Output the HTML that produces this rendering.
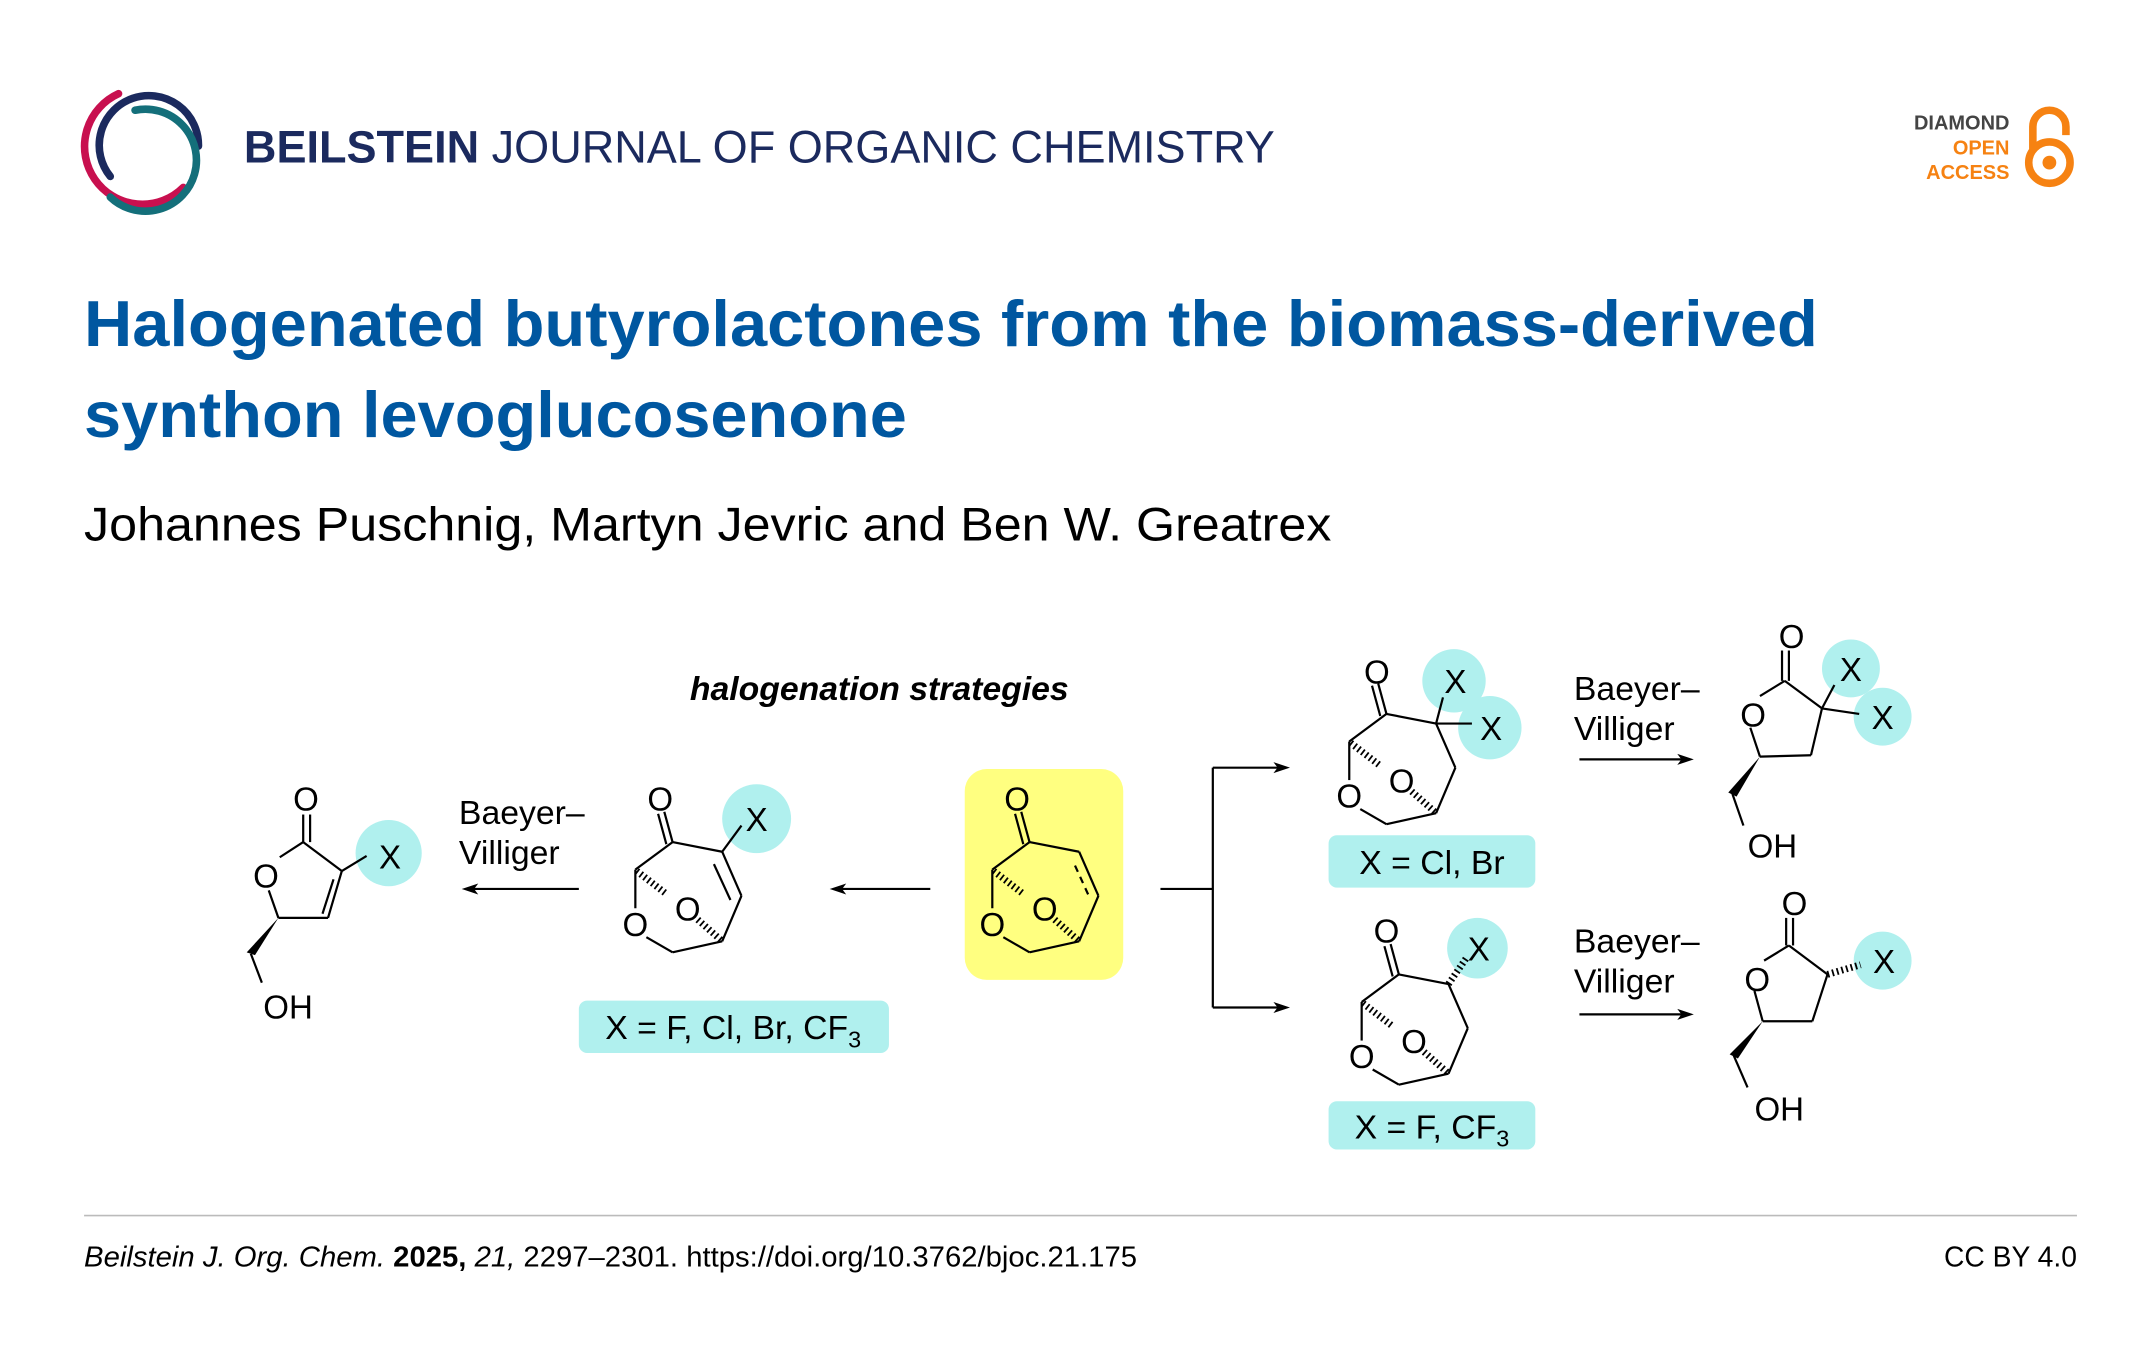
<!DOCTYPE html>
<html><head><meta charset="utf-8"><style>
html,body{margin:0;padding:0;background:#fff;}
svg{display:block;}
text{font-family:"Liberation Sans",Arial,sans-serif;}
</style></head><body>
<svg width="2150" height="1361" viewBox="0 0 1560 987.5" preserveAspectRatio="none" xmlns="http://www.w3.org/2000/svg">
<defs>
<g id="bicyc" stroke="#000" stroke-width="1.6" fill="none">
  <line x1="0" y1="0" x2="-6" y2="-22"/>
  <line x1="-4.5" y1="1.5" x2="-10.5" y2="-20.5"/>
  <line x1="0" y1="0" x2="36" y2="7"/>
  <line x1="50" y1="39" x2="36" y2="72"/>
  <line x1="36" y1="72" x2="0" y2="80"/>
  <line x1="0" y1="80" x2="-19" y2="69"/>
  <line x1="-27" y1="48" x2="-27" y2="20"/>
  <line x1="-27" y1="20" x2="0" y2="0"/>
  <line x1="-26" y1="21" x2="-4" y2="38" stroke-width="5" stroke-dasharray="1.3 2.2"/>
  <line x1="35" y1="71" x2="18" y2="56" stroke-width="5" stroke-dasharray="1.3 2.2"/>
</g>
</defs>

<!-- Logo -->
<g fill="none" stroke-linecap="round">
  <path d="M80,128 A36,36 0 1 1 144,106" stroke="#1b2a5e" stroke-width="5.5"/>
  <path d="M86,68 A42,42 0 1 0 133,136" stroke="#c8104f" stroke-width="5.5"/>
  <path d="M98,80 A37,37 0 1 1 80,143" stroke="#146f7a" stroke-width="5.5"/>
</g>
<text x="177" y="118" font-size="33" fill="#1b2a5e" textLength="748" lengthAdjust="spacingAndGlyphs"><tspan font-weight="bold">BEILSTEIN</tspan> JOURNAL OF ORGANIC CHEMISTRY</text>

<!-- Diamond open access -->
<g font-size="14.5" font-weight="bold" text-anchor="end">
  <text x="1458" y="94" fill="#444">DIAMOND</text>
  <text x="1458" y="112" fill="#f68212">OPEN</text>
  <text x="1458" y="130" fill="#f68212">ACCESS</text>
</g>
<g fill="none" stroke="#f68212" stroke-width="5.5">
  <circle cx="1487" cy="118" r="15"/>
  <path d="M1475,108 L1475,92 A12,12 0 0 1 1499,92 L1499,98"/>
</g>
<circle cx="1487" cy="118" r="5" fill="#f68212"/>

<!-- Title -->
<text x="61" y="251" font-size="47" font-weight="bold" fill="#0057a0" textLength="1258" lengthAdjust="spacingAndGlyphs">Halogenated butyrolactones from the biomass-derived</text>
<text x="61" y="317" font-size="47" font-weight="bold" fill="#0057a0" textLength="597" lengthAdjust="spacingAndGlyphs">synthon levoglucosenone</text>
<text x="61" y="392" font-size="34" fill="#000" textLength="905" lengthAdjust="spacingAndGlyphs">Johannes Puschnig, Martyn Jevric and Ben W. Greatrex</text>

<!-- Diagram -->
<text x="638" y="508" font-size="24.5" font-weight="bold" font-style="italic" text-anchor="middle">halogenation strategies</text>

<rect x="700" y="558" width="115" height="153" rx="16" fill="#ffff80"/>

<g fill="#b0f0ee">
  <circle cx="282" cy="619" r="24"/>
  <circle cx="549" cy="594" r="25"/>
  <circle cx="1055" cy="494" r="23"/>
  <circle cx="1081" cy="528" r="23"/>
  <circle cx="1072" cy="688" r="22"/>
  <circle cx="1343" cy="485" r="21"/>
  <circle cx="1366" cy="520" r="21"/>
  <circle cx="1366" cy="697" r="21"/>
  <rect x="420" y="726" width="225" height="38" rx="6"/>
  <rect x="964" y="606" width="150" height="38" rx="6"/>
  <rect x="964" y="799" width="150" height="35" rx="6"/>
</g>

<g font-size="24.5" fill="#000">
  <text x="532" y="754" text-anchor="middle">X = F, Cl, Br, CF<tspan font-size="17" dy="6">3</tspan></text>
  <text x="1039" y="634" text-anchor="middle">X = Cl, Br</text>
  <text x="1039" y="826" text-anchor="middle">X = F, CF<tspan font-size="17" dy="6">3</tspan></text>
</g>

<!-- levoglucosenone -->
<g transform="translate(747,611)">
  <use href="#bicyc"/>
  <line x1="36" y1="7" x2="50" y2="39" stroke="#000" stroke-width="1.6"/>
  <line x1="33" y1="17" x2="43" y2="39" stroke="#000" stroke-width="1.6" stroke-dasharray="5 4"/>
  <g font-size="24" text-anchor="middle"><text x="-9" y="-23">O</text><text x="-27" y="68">O</text><text x="11" y="57">O</text></g>
</g>

<!-- middle-left enone -->
<g transform="translate(488,611)">
  <use href="#bicyc"/>
  <line x1="36" y1="7" x2="50" y2="39" stroke="#000" stroke-width="1.6"/>
  <line x1="30" y1="16" x2="42" y2="42" stroke="#000" stroke-width="1.6"/>
  <line x1="36" y1="7" x2="50" y2="-12" stroke="#000" stroke-width="1.6"/>
  <g font-size="24" text-anchor="middle"><text x="-9" y="-23">O</text><text x="-27" y="68">O</text><text x="11" y="57">O</text><text x="61" y="-8">X</text></g>
</g>

<!-- top-right gem-dihalo -->
<g transform="translate(1006,518)">
  <use href="#bicyc"/>
  <line x1="36" y1="7" x2="50" y2="39" stroke="#000" stroke-width="1.6"/>
  <line x1="36" y1="7" x2="41" y2="-12" stroke="#000" stroke-width="1.6"/>
  <line x1="36" y1="7" x2="62" y2="7" stroke="#000" stroke-width="1.6"/>
  <g font-size="24" text-anchor="middle"><text x="-7" y="-22">O</text><text x="-27" y="68">O</text><text x="11" y="57">O</text><text x="50" y="-15">X</text><text x="76" y="19">X</text></g>
</g>

<!-- bottom-right mono -->
<g transform="translate(1015,707)">
  <use href="#bicyc"/>
  <line x1="36" y1="7" x2="50" y2="39" stroke="#000" stroke-width="1.6"/>
  <line x1="36" y1="7" x2="49" y2="-12" stroke="#000" stroke-width="5" stroke-dasharray="1.3 2.2"/>
  <g font-size="24" text-anchor="middle"><text x="-9" y="-23">O</text><text x="-27" y="68">O</text><text x="11" y="57">O</text><text x="58" y="-10">X</text></g>
</g>

<!-- left lactone -->
<g stroke="#000" stroke-width="1.6" fill="none">
  <line x1="220" y1="611" x2="220" y2="591"/><line x1="225" y1="611" x2="225" y2="591"/>
  <line x1="220" y1="611" x2="248" y2="632"/>
  <line x1="248" y1="632" x2="238" y2="666"/>
  <line x1="242" y1="638" x2="234" y2="663"/>
  <line x1="238" y1="666" x2="202" y2="666"/>
  <line x1="202" y1="666" x2="195" y2="646"/>
  <line x1="203" y1="622" x2="220" y2="611"/>
  <line x1="248" y1="632" x2="266" y2="621"/>
  <line x1="182" y1="692" x2="190" y2="713"/>
</g>
<polygon points="202,666 179,691 185,693" fill="#000"/>
<g font-size="24" text-anchor="middle">
  <text x="222" y="588">O</text><text x="193" y="644">O</text><text x="209" y="739">OH</text><text x="283" y="630">X</text>
</g>

<!-- top-right lactone -->
<g stroke="#000" stroke-width="1.6" fill="none">
  <line x1="1293" y1="494" x2="1293" y2="472"/><line x1="1298" y1="494" x2="1298" y2="472"/>
  <line x1="1295" y1="494" x2="1322" y2="514"/>
  <line x1="1322" y1="514" x2="1314" y2="548"/>
  <line x1="1314" y1="548" x2="1277" y2="549"/>
  <line x1="1277" y1="549" x2="1270" y2="528"/>
  <line x1="1277" y1="505" x2="1295" y2="494"/>
  <line x1="1322" y1="514" x2="1331" y2="497"/>
  <line x1="1322" y1="514" x2="1349" y2="518"/>
  <line x1="1257" y1="576" x2="1265" y2="599"/>
</g>
<polygon points="1277,549 1254,575 1260,578" fill="#000"/>
<g font-size="24" text-anchor="middle">
  <text x="1300" y="470">O</text><text x="1272" y="527">O</text><text x="1286" y="622">OH</text><text x="1343" y="494">X</text><text x="1366" y="529">X</text>
</g>

<!-- bottom-right lactone -->
<g stroke="#000" stroke-width="1.6" fill="none">
  <line x1="1296" y1="686" x2="1296" y2="666"/><line x1="1301" y1="686" x2="1301" y2="666"/>
  <line x1="1298" y1="686" x2="1326" y2="707"/>
  <line x1="1326" y1="707" x2="1315" y2="741"/>
  <line x1="1315" y1="741" x2="1279" y2="741"/>
  <line x1="1279" y1="741" x2="1273" y2="719"/>
  <line x1="1280" y1="697" x2="1298" y2="686"/>
  <line x1="1326" y1="707" x2="1350" y2="700" stroke-width="5" stroke-dasharray="1.3 2.2"/>
  <line x1="1258" y1="766" x2="1268" y2="789"/>
</g>
<polygon points="1279,741 1255,765 1261,768" fill="#000"/>
<g font-size="24" text-anchor="middle">
  <text x="1302" y="664">O</text><text x="1275" y="719">O</text><text x="1291" y="813">OH</text><text x="1367" y="706">X</text>
</g>

<!-- arrows -->
<g stroke="#000" stroke-width="1.6" fill="none">
  <line x1="420" y1="645" x2="342" y2="645"/>
  <line x1="675" y1="645" x2="609" y2="645"/>
  <line x1="842" y1="645" x2="880" y2="645"/>
  <line x1="880" y1="557" x2="880" y2="731"/>
  <line x1="880" y1="557" x2="928" y2="557"/>
  <line x1="880" y1="731" x2="928" y2="731"/>
  <line x1="1146" y1="551" x2="1221" y2="551"/>
  <line x1="1146" y1="736" x2="1221" y2="736"/>
</g>
<g fill="#000">
  <polygon points="335,645 347,641 344,645 347,649"/>
  <polygon points="602,645 614,641 611,645 614,649"/>
  <polygon points="936,557 924,553 927,557 924,561"/>
  <polygon points="936,731 924,727 927,731 924,735"/>
  <polygon points="1229,551 1217,547 1220,551 1217,555"/>
  <polygon points="1229,736 1217,732 1220,736 1217,740"/>
</g>
<g font-size="24.5">
  <text x="333" y="598">Baeyer–</text><text x="333" y="627">Villiger</text>
  <text x="1142" y="508">Baeyer–</text><text x="1142" y="537">Villiger</text>
  <text x="1142" y="691">Baeyer–</text><text x="1142" y="720">Villiger</text>
</g>

<!-- footer -->
<line x1="61" y1="882" x2="1507" y2="882" stroke="#bbb" stroke-width="1.2"/>
<text x="61" y="919" font-size="20.5" textLength="764" lengthAdjust="spacingAndGlyphs"><tspan font-style="italic">Beilstein J. Org. Chem.</tspan> <tspan font-weight="bold">2025,</tspan> <tspan font-style="italic">21,</tspan> 2297–2301. https://doi.org/10.3762/bjoc.21.175</text>
<text x="1507" y="919" font-size="20.5" text-anchor="end">CC BY 4.0</text>
</svg>
</body></html>
